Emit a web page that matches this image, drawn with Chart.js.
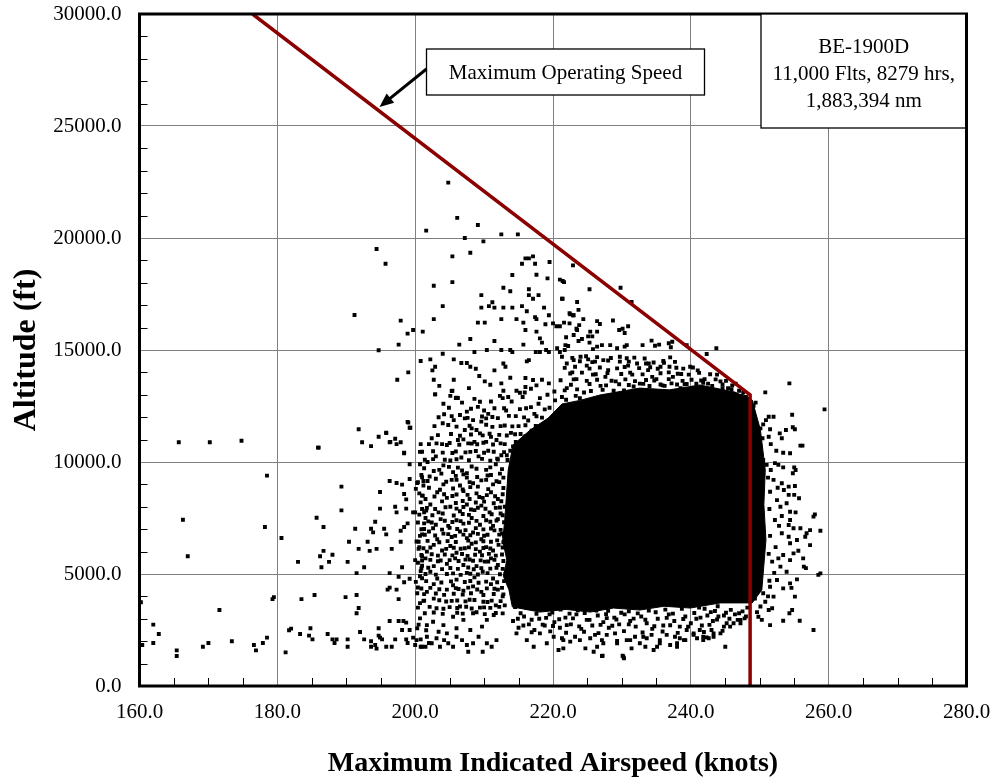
<!DOCTYPE html>
<html>
<head>
<meta charset="utf-8">
<title>BE-1900D Maximum Indicated Airspeed vs Altitude</title>
<script src="https://cdn.jsdelivr.net/npm/chart.js@4.4.1/dist/chart.umd.min.js"></script>
<style>
  html, body { margin: 0; padding: 0; background: #fff; }
  #wrap { position: relative; width: 998px; height: 784px; }
</style>
</head>
<body>
<div id="wrap"><canvas id="speedChart"></canvas></div>
<script>
// axis ticks
var speedTicks = [160, 180, 200, 220, 240, 260, 280];
var altTicks = [0, 5000, 10000, 15000, 20000, 25000, 30000];

// Vmo limit line (knots / ft)
var vmoSpeed = [176.4, 248.6, 248.6];
var vmoAlt = [30000, 13000, 0];

// outline of the solid black part of the cloud (points overlap completely there)
var coreSpeed = [213.5, 214.2, 216.7, 219.3, 221.3, 223.9, 226.8, 232.6, 236.9, 241.3, 246.4, 248.9, 250.1, 250.8, 250.6, 250.9, 250.3, 248.9, 244.3, 239.9, 236.1, 232.6, 228.8, 225.4, 221.9, 218.1, 214.1, 213.6, 212.8, 213.3, 212.7, 213.0, 213.5];
var coreAlt = [9640, 10760, 11430, 11960, 12590, 12750, 12990, 13300, 13220, 13440, 13120, 12770, 11430, 9640, 8100, 6520, 4290, 3710, 3710, 3480, 3560, 3390, 3480, 3300, 3420, 3300, 3530, 4300, 4900, 5620, 6500, 7410, 9640];

// single flights, [knots, ft]
var westLow = [[160.4,1830],[162.0,2740],[162.0,1920],[162.8,2320],[165.4,1590],[165.4,1340],[169.2,1750],[170.0,1920],[173.4,2000],[176.6,1830],[176.9,1590],[177.9,1920],[178.5,2160],[181.2,1500],[181.7,2490],[182.0,2560],[183.3,2320],[184.6,2250],[184.8,2580],[185.1,2080],[187.3,2320],[188.0,2080],[188.3,1920],[188.6,2080],[190.2,2080],[190.2,1750],[192.0,2410],[192.6,2080],[193.6,2000],[193.6,1750],[194.2,1830],[194.4,1670],[194.7,2580],[194.7,2250],[194.9,2160],[195.2,2080],[195.8,1750],[196.3,2900],[196.6,1750],[197.1,2080],[197.6,2900],[198.3,2900],[198.1,2500],[198.7,2080],[198.9,1920],[198.7,2830],[199.2,2500],[199.7,2160],[200.0,1830],[200.3,2580],[200.5,2740],[200.8,2080],[200.8,1750],[201.5,1750],[201.6,2490],[202.0,1920]];

var westMid = [[165.7,10880],[170.2,10880],[174.8,10950],[186.0,10640],[191.8,11460],[192.3,10880],[193.6,10710],[194.7,11130],[195.8,11290],[196.3,10880],[197.1,11040],[197.3,10800],[197.9,10880],[198.4,10390],[198.9,11790],[199.2,11530],[200.8,10800],[201.0,10460],[199.2,9900],[178.5,9390],[166.3,7420],[167.0,5790],[178.2,7100],[180.6,6610],[189.3,8900],[189.3,7840],[185.7,7510],[186.7,7100],[183.0,5540],[186.2,5790],[186.7,6030],[188.0,5860],[187.5,5540],[186.4,5300],[190.2,5540],[190.4,6440],[191.5,5040],[191.8,6120],[191.3,7020],[192.6,5300],[193.1,6440],[193.4,6030],[194.2,7330],[193.6,7020],[193.9,6860],[194.4,6120],[194.9,8660],[194.9,7920],[195.5,7020],[195.8,6770],[196.3,9150],[196.6,6120],[197.1,8000],[197.3,7750],[197.3,9060],[197.9,6930],[198.1,8990],[198.4,8570],[198.7,8330],[198.4,7100],[198.7,7920],[198.9,7260],[199.2,9240],[199.7,7750],[197.9,6440],[198.1,5300],[197.6,4880],[198.4,4630],[199.2,4790],[196.3,5040],[196.0,4300],[196.3,4390],[197.3,4300],[197.6,3880],[200.3,4140],[201.3,3810],[200.0,5620],[200.5,6120],[201.0,5790],[201.0,5370],[200.8,5130],[201.0,4810],[200.5,6440],[201.0,6770],[201.3,7010],[201.3,7750],[201.6,7830],[201.0,9320],[201.2,9150],[200.3,9060],[201.0,8500],[200.0,7750],[201.3,7260],[191.5,4060],[191.8,3480],[191.5,3250],[189.9,3970],[183.5,3880],[185.4,4060],[179.5,3970],[179.3,3880],[171.6,3390],[160.2,3740],[185.9,10640],[198.4,10410],[195.8,11310],[196.4,10900]];

var westHalo = [
  [200.7,9900],[202.7,9600],[204.1,9850],[205.5,9550],[206.2,9750],[207.5,9500],[208.2,9800],[210.3,9650],[211.7,9900],
  [200.4,9100],[201.2,8950],[203.0,9250],[204.1,9000],[205.3,9200],[206.5,8950],[207.5,9300],[208.4,9050],[209.1,8900],[210.3,9200],[211.3,9000],
  [200.6,8600],[201.5,8350],[203.2,8650],[204.6,8400],[206.0,8550],[207.0,8700],[207.9,8350],[208.9,8600],[209.8,8400],[211.0,8650],[212.0,8350],
  [201.0,7900],[202.2,8100],[203.4,7750],[205.1,8000],[206.5,7800],[207.5,8100],[208.6,7850],[209.6,8050],[210.8,7750],[211.7,7950],
  [200.4,7300],[201.5,7500],[203.0,7200],[203.7,7450],[204.8,7150],[206.0,7400],[207.0,7250],[208.2,7500],[209.4,7200],[210.3,7400],[211.3,7150],[212.0,7450],
  [200.7,6700],[202.0,6900],[203.2,6550],[204.1,6800],[205.3,6650],[206.5,6900],[207.5,6600],[208.4,6850],[209.6,6550],[210.5,6750],[211.5,6950],
  [200.6,6200],[201.7,6000],[202.7,6300],[203.9,6050],[205.1,6250],[206.0,5950],[207.2,6150],[208.2,6350],[209.4,6000],[210.3,6200],[211.3,6050],[212.1,6300],
  [200.4,5500],[201.5,5700],[202.7,5350],[203.7,5600],[204.6,5450],[205.8,5700],[207.0,5400],[207.9,5650],[208.9,5350],[210.1,5550],[211.0,5700],[212.0,5400],
  [200.7,4900],[202.2,5100],[203.2,4800],[204.6,5000],[206.0,4750],[207.5,5050],[208.6,4850],[209.8,5100],[211.3,4800],
  [200.4,4400],[201.7,4200],[202.7,4550],[204.6,4300],[205.5,4500],[207.0,4250],[208.4,4450],[209.6,4200],[211.0,4550],[212.0,4300],
  [200.7,3700],[202.7,3900],[204.1,3450],[205.3,3800],[206.5,3550],[207.9,3850],[209.4,3500],[210.5,3750],[211.7,3600],
  [212.8,9300],[213.0,8000],[212.6,6800],[213.1,5000],[212.7,4000],[213.0,3600],[212.5,10300],[213.0,10800],[212.4,7700],[213.2,6200],
  [200.7,3020],[201.7,2720],[202.6,2870],[204.1,2720],[205.5,3090],[207.0,2950],[208.4,3250],[209.7,2650],[210.4,2950],[211.4,3170],[208.0,2500],[206.0,2580],[204.6,2350],[203.4,2420],
  [200.2,2050],[201.0,1750],[201.7,2200],[202.4,1910],[203.1,2130],[203.6,1750],[204.2,2050],[204.8,1910],[205.5,1750],[206.0,2200],[206.8,2050],[207.5,1830],[207.7,1530],[208.4,1910],[209.2,2200],[209.8,1530],[210.4,1910],[211.1,1750],[211.8,2050]
];

var westHaloB = [
  [201.3,9720],[203.5,9650],[204.9,9780],[206.8,9620],[208.9,9700],[210.9,9760],[212.6,9680],
  [200.9,9420],[202.1,9350],[203.8,9480],[205.9,9380],[207.0,9450],[209.0,9330],[211.0,9420],[212.3,9480],
  [201.8,9150],[204.5,9120],[206.0,9200],[207.9,9100],[209.6,9180],[211.8,9140],
  [200.1,8800],[202.0,8850],[203.6,8760],[205.5,8820],[206.9,8780],[208.0,8880],[210.6,8790],[212.8,8840],
  [201.1,8500],[202.8,8460],[204.2,8560],[205.4,8480],[207.6,8530],[209.3,8440],[210.4,8520],[211.6,8470],[212.7,8560],
  [200.8,8200],[203.9,8240],[205.9,8170],[206.9,8260],[208.8,8190],[210.0,8230],[211.4,8160],[212.5,8250],
  [201.7,7950],[202.9,7900],[204.4,7980],[206.0,7920],[207.0,7990],[208.1,7880],[209.1,7960],[210.2,7910],[212.3,7970],
  [200.6,7650],[202.5,7620],[204.0,7700],[205.6,7610],[206.9,7680],[207.8,7640],[209.9,7590],[211.1,7670],[212.7,7620],
  [201.9,7350],[202.4,7300],[204.3,7380],[205.4,7320],[206.6,7360],[207.8,7290],[208.9,7370],[210.9,7330],[211.8,7390],[212.9,7310],
  [200.9,7000],[202.6,7040],[203.9,6980],[205.0,7060],[206.1,7010],[207.3,6960],[208.8,7050],[209.9,6990],[211.0,7030],[212.4,6970],
  [201.4,6750],[202.9,6720],[204.8,6780],[205.8,6700],[207.0,6760],[208.0,6730],[209.1,6790],[210.0,6710],[212.2,6760],[212.9,6690],
  [200.2,6450],[201.8,6480],[203.5,6420],[204.7,6470],[205.9,6430],[207.7,6490],[208.8,6410],[209.9,6460],[211.0,6440],[211.9,6500],[212.8,6420],
  [201.2,6150],[202.2,6180],[204.5,6120],[205.6,6170],[206.6,6130],[207.8,6190],[208.8,6110],[209.9,6160],[210.9,6140],[212.7,6180],
  [200.9,5850],[202.4,5880],[203.3,5820],[204.3,5870],[205.4,5830],[206.8,5890],[207.6,5810],[208.7,5860],[209.7,5840],[210.7,5900],[211.7,5820],[212.6,5870],
  [201.0,5600],[202.2,5630],[203.3,5570],[205.0,5620],[206.3,5580],[207.3,5640],[208.4,5590],[209.5,5610],[210.6,5560],[211.5,5630],[212.8,5580],
  [200.9,5250],[201.9,5280],[203.9,5220],[205.1,5270],[206.2,5230],[207.7,5290],[208.5,5210],[209.6,5260],[210.9,5240],[211.8,5280],[212.7,5230],
  [201.5,5000],[203.0,4970],[205.5,5030],[206.6,4960],[208.0,5010],[209.1,4980],[210.5,5040],[212.3,4990],
  [200.1,4650],[201.6,4680],[203.8,4620],[205.2,4670],[207.2,4640],[208.0,4690],[209.2,4610],[210.3,4660],[211.9,4630],[212.9,4680],
  [200.9,4350],[202.2,4380],[203.5,4320],[205.9,4370],[206.3,4330],[207.7,4390],[209.0,4310],[210.4,4360],[211.5,4340],[212.6,4380],
  [201.3,4100],[203.0,4130],[204.2,4070],[205.6,4120],[206.9,4080],[208.1,4140],[209.9,4060],[211.4,4110],[212.8,4090],
  [201.2,3800],[203.5,3830],[204.5,3770],[206.1,3820],[207.3,3780],[208.6,3840],[209.9,3760],[211.1,3810],[212.4,3790],
  [200.4,3500],[202.1,3530],[203.1,3470],[205.0,3520],[206.1,3480],[207.4,3540],[208.2,3460],[210.0,3510],[210.9,3490],[212.2,3530],
  [201.4,3250],[202.7,3280],[204.0,3220],[206.1,3270],[206.9,3230],[208.9,3290],[210.1,3210],[211.7,3260],[212.7,3240]
];

var northHalo = [
  [202.9,13020],[205.3,13170],[206.0,12870],[209.4,12690],[204.2,12130],[204.0,11730],[205.6,11870],[206.5,12100],[207.2,11950],[208.4,11870],[208.9,11430],[209.6,11800],[210.3,11950],[207.2,11430],[208.2,11500],[209.4,11280],[202.4,11060],[203.1,10830],[203.9,10800],[204.6,10760],[206.2,10980],[207.0,11010],[207.7,10830],[208.6,10900],[210.3,10900],[211.0,11120],[211.8,10980],[199.0,11760],[199.3,11530],
  [203.5,13400],[207.8,13300],[210.9,13450],[214.0,12700],[215.6,12900],[217.9,12600],[219.2,13000],[220.3,12750],[213.2,12300],[214.6,12050],[216.1,12400],[217.3,12150],[218.8,12350],[215.0,11600],[216.4,11850],[213.9,11300],[212.4,11600],[211.5,12400],[210.0,12300],[212.7,12850],[215.3,11250],[216.9,11400],[214.2,10700],[213.3,10300],[211.9,10150],[210.6,10500],[209.2,10250],[208.0,10450],[206.7,10200],[205.4,10400],[204.3,10100],[203.0,10250],[201.8,10000],[210.5,9400],[212.2,9100],
  [222.0,13300],[223.4,13700],[224.5,13100],[225.8,13900],[226.9,13400],[228.0,14100],[229.1,13600],[230.3,13200],[231.5,13900],[232.6,13500],[233.8,14100],[235.0,13700],[236.2,13400],[237.4,13800],[238.5,13300],[239.7,13900],[240.8,13500],[242.0,13700],[243.1,13400],[244.3,13600],[245.4,13300],[246.5,13500],[247.6,13100],[222.8,14000],[224.9,14300],[227.6,13800],[230.9,14300],[234.4,13800],[236.8,14000],[240.2,13300],[243.8,13900],[246.0,13000],[221.3,12900],[223.9,12850],[248.0,12900]
];

var northHaloB = [
  [204.9,12420],[208.1,12380],[209.1,12460],[212.9,12400],[215.2,12360],[216.8,12450],[219.5,12420],
  [203.4,12000],[205.3,12050],[207.6,11970],[209.7,12030],[211.2,12010],[212.0,11960],[213.6,12060],[215.8,11990],[217.6,12040],[218.4,11980],
  [202.8,11600],[204.8,11650],[206.0,11580],[207.9,11620],[210.3,11660],[211.2,11570],[213.0,11630],[214.1,11590],[216.0,11640],[217.5,11610],
  [203.3,11200],[205.2,11250],[206.5,11170],[208.1,11230],[209.8,11190],[210.8,11260],[212.2,11210],[213.3,11180],[214.5,11240],[216.0,11150],
  [202.0,10800],[205.0,10850],[206.4,10770],[208.2,10820],[209.0,10790],[209.9,10860],[211.3,10780],[212.4,10830],[214.6,10890],
  [200.7,10450],[202.6,10480],[204.0,10420],[205.9,10470],[207.3,10430],[208.8,10490],[210.0,10410],[211.4,10460],[212.9,10440],[213.8,10500],
  [201.4,10100],[202.6,10130],[205.1,10070],[206.0,10120],[207.8,10080],[209.7,10140],[210.9,10060],[212.0,10110],[213.4,10090],
  [221.3,14700],[222.8,14650],[224.8,14720],[226.4,14680],[228.4,14640],[229.7,14700],[231.8,14660],[233.3,14620],
  [223.9,14500],[225.7,14460],[228.0,14530],[231.0,14480],[234.6,14440],[236.0,14510],[237.7,14470],
  [221.7,14200],[223.2,14250],[225.3,14170],[226.8,14220],[229.3,14180],[230.4,14240],[232.5,14190],[234.1,14230],[235.2,14160],[237.9,14210],[238.9,14170],[240.3,14220],
  [222.5,13950],[224.2,13990],[226.2,13920],[227.9,13970],[229.9,13930],[231.2,13990],[233.0,13910],[235.6,13960],[238.1,13940],[241.2,13980],[242.8,13920],
  [221.1,13650],[223.0,13690],[224.9,13620],[226.4,13670],[228.5,13630],[230.5,13690],[231.9,13610],[233.5,13660],[234.7,13640],[236.8,13700],[238.8,13620],[240.1,13670],[241.5,13640],[243.6,13690],[245.1,13620],
  [222.6,13450],[225.3,13480],[227.7,13420],[229.6,13470],[231.0,13440],[233.1,13490],[235.6,13460],[237.2,13510],[239.1,13470],[241.8,13530],[244.6,13460],[246.0,13420],
  [221.7,13200],[223.5,13240],[225.5,13170],[227.2,13220],[228.8,13180],[231.7,13370],[234.0,13390],[235.9,13420],[238.0,13460],[239.4,13480],[242.5,13500],[244.6,13300],[245.9,13250],[247.0,13180],
  [247.4,12950],[248.2,12820],[221.9,12780],[223.3,12950],
  [206.8,12650],[208.6,12820],[211.0,12700],[213.5,12900],[215.9,13100],[218.1,12850],[220.2,13150],[207.5,12250],[210.6,12150],[204.1,12600]
];

var upper = [[204.8,22470],[206.1,20900],[201.6,20330],[209.1,20580],[207.2,20000],[209.9,19850],[212.5,20160],[214.9,20160],[194.4,19510],[195.7,18850],[205.4,19180],[208.0,19340],[202.7,17870],[205.4,18030],[204.0,16960],[191.2,16560],[197.9,16310],[198.9,15730],[199.7,15890],[201.1,15820],[202.7,16380],[197.6,15240],[194.7,14990],[209.6,17450],[211.2,17130],[210.7,16960],[211.5,16890],[209.6,16890],[212.8,17780],[213.8,17620],[212.8,16890],[214.1,16890],[212.5,16380],[209.1,16220],[210.1,16220],[214.7,16380],[215.5,16960],[214.1,18350],[215.5,18850],[216.0,19090],[216.5,19090],[217.1,19180],[217.4,18850],[217.6,18360],[216.5,17710],[216.5,17450],[217.1,17290],[217.9,17450],[219.2,18200],[219.5,18930],[216.2,16730],[215.7,16220],[216.0,15890],[217.4,16470],[217.6,16380],[218.7,16890],[219.4,16550],[217.6,15820],[218.9,16150],[220.0,16190],[220.5,16060],[221.0,16060],[221.0,18140],[221.6,18030],[221.3,17290],[222.4,16640],[222.9,16550],[221.6,16220],[222.4,16190],[222.9,18780],[223.5,15890],[218.1,15520],[218.4,15330],[215.7,15240],[217.5,14910],[218.1,14910],[219.0,15000],[219.4,14910],[220.6,15080],[221.0,14910],[221.7,15000],[212.5,15000],[213.8,15000],[214.1,14910],[211.5,15400],[210.4,15000],[208.6,14910],[206.4,15240],[208.0,15490],[204.0,14830],[200.8,14510],[202.2,14580],[202.9,14250],[202.5,14090],[205.6,14580],[206.7,14420],[207.5,14420],[208.0,14250],[208.8,14160],[209.3,13840],[210.1,13600],[211.5,14090],[212.8,14400],[213.1,14250],[213.8,13760],[212.5,13510],[214.7,13180],[215.2,13090],[216.2,14490],[216.5,14550],[216.0,13750],[217.1,13660],[217.6,13420],[216.0,13350],[216.8,13270],[218.4,13670],[219.4,13510],[197.4,13670],[199.0,14000],[202.7,13670],[205.6,13670],[202.9,13020],[205.4,13180],[205.1,12950],[205.9,12860],[206.2,12860],[212.8,13180],[212.3,12950],
  [221.4,18080],[225.3,17710],[229.8,17780],[231.4,17140],[221.4,17290],[223.5,17140],[223.7,16790],[222.5,16590],[223.0,16550],[224.4,16380],[223.8,16110],[223.4,15950],[226.4,16290],[226.8,16160],[228.7,16320],[230.9,16060],[229.6,15890],[230.1,15950],[230.4,15760],[225.4,15820],[225.1,15610],[225.7,15610],[221.9,15570],[223.0,15670],[226.4,15820],[221.8,15220],[222.2,15180],[223.7,15400],[224.2,15490],[225.3,15330],[225.8,15040],[226.4,15150],[227.1,15220],[228.3,15220],[229.3,15080],[230.4,15150],[230.7,15220],[233.0,15220],[234.3,15420],[234.8,15190],[235.4,15240],[236.8,15300],[237.3,15370],[237.1,15120],[239.4,15220],[243.7,15080],[242.3,14820],[239.9,14250],[241.0,14090],[238.6,13930],[237.0,14670],[236.1,14430],[236.9,14250],[235.6,14250],[233.5,14400],[233.9,14400],[232.2,14400],[230.7,14630],[229.7,14480],[227.3,14550],[226.1,14480],[225.1,14580],[224.0,14700],[223.0,14550],[222.0,14400],[247.2,12690]];

var south = [[221.5,1680],[224.7,1680],[227.2,1350],[230.1,1350],[230.3,1240],[225.9,1530],[231.4,1680],[233.4,1750],[234.6,1610],[235.1,1750],[245.0,1750],[237.0,1830],[238.0,1910],[239.2,2050],[240.9,2130],[241.8,2050],[242.6,2130],[226.4,1750],[227.1,1340],[230.2,1310],[227.3,1910],[229.3,1910],[231.2,2050],[233.1,2200],[235.5,1910],[238.0,1750],[239.0,2050],[241.8,2200],[240.4,2350],[243.3,2350],[245.7,2650],[243.3,2200],[242.3,2170],
  [221.3,2130],[222.5,1980],[223.2,2200],[223.9,2050],[225.4,2130],[226.1,2280],[227.1,2050],[227.8,2280],[229.0,2350],[229.3,2010],[230.7,2050],[231.9,2200],[232.6,1910],[233.6,2130],[234.3,2280],[235.5,2050],[236.5,2280],[237.7,2200],[238.4,2130],[239.4,2500],[240.4,2280],[241.3,2500],[243.0,2500],[244.3,2350],[245.2,2800],[246.2,2800],[247.2,2800],
  [214.2,2900],[215.0,2600],[215.8,3100],[216.5,2750],[217.3,2500],[218.0,3000],[218.8,2700],[219.5,3200],[220.2,2850],[221.0,2600],[221.8,3050],[222.6,2750],[223.4,3200],[224.1,2550],[224.9,2950],[225.7,2700],[226.5,3150],[227.3,2850],[228.1,2600],[228.9,3050],[229.6,2750],[230.4,3200],[231.2,2900],[232.0,2650],[232.8,3100],[233.6,2800],[234.4,2550],[235.2,3000],[236.0,2700],[236.8,3200],[237.6,2900],[238.4,2650],[239.2,3100],[240.0,2800],[240.8,3000],[241.6,2700],[242.4,3150],[243.2,2900],[244.0,3100],[244.8,2650],[245.6,3000],[246.4,3200],[247.2,2950],[248.0,3100],
  [214.7,2350],[216.2,2050],[217.2,1750],[218.1,2350],[219.1,1910],[220.1,2200],[220.8,1610],[221.5,2050],
  [245.8,3400],[247.0,3250],[243.5,3350],[246.8,2950],[248.2,3500],[242.0,3450],[244.8,3150]];

var southB = [
  [214.5,3520],[216.2,3480],[218.9,3440],[221.1,3410],[223.6,3380],[226.3,3370],[228.0,3360],[231.0,3340],[233.9,3370],[236.3,3410],[238.7,3450],[241.2,3500],[243.9,3560],
  [215.3,3250],[217.6,3220],[219.9,3280],[222.4,3230],[224.6,3260],[227.7,3210],[229.9,3270],[232.3,3240],[234.9,3290],[237.4,3230],[240.5,3260],[242.9,3300],[245.1,3270],[247.5,3330],
  [214.9,3000],[216.9,2960],[219.0,3040],[220.9,2980],[222.9,3020],[225.3,2950],[227.8,3030],[229.2,2970],[231.7,3010],[233.4,2960],[236.5,3040],[238.9,2990],[241.4,3050],[243.8,2970],[247.8,3020],
  [215.7,2700],[218.5,2740],[220.0,2680],[222.0,2720],[223.8,2660],[226.9,2730],[228.6,2690],[231.0,2750],[234.7,2670],[237.0,2710],[239.6,2650],[242.7,2730],
  [216.9,2400],[219.6,2440],[221.9,2380],[224.5,2420],[226.6,2360],[230.3,2450],[233.0,2390],[235.9,2430],[238.1,2370],[241.9,2410],[244.6,2460],
  [249.3,3900],[250.1,3550],[249.6,3300],[251.2,4000],[249.0,4100]
];

var east = [[254.3,13510],[250.8,13110],[259.4,12350],[254.7,12110],[249.4,12650],[249.1,12510],[251.3,12020],[252.0,12020],[250.9,11870],[250.5,11680],[250.1,11500],[251.5,11460],[252.9,11280],[253.8,11430],[254.8,11550],[255.1,11460],[253.2,11060],[253.4,10410],[254.4,10390],[255.9,10730],[256.2,10730],[250.4,11060],[251.3,11130],[252.2,9950],[252.7,9870],[253.4,9760],[255.0,9760],[254.8,9500],[255.2,9640],[250.5,10090],[251.0,9870],[251.6,9640],[250.1,9790],[252.0,9200],[253.2,9050],[254.2,8900],[255.1,8930],[255.0,8530],[255.7,8380],[254.2,8530],[253.5,8750],[251.5,8670],[252.5,8300],[253.0,8000],[253.9,8160],[254.4,7780],[255.2,7750],[253.2,7590],[252.2,7410],[258.0,7660],[257.8,7560],[258.8,6930],[257.3,6960],[256.8,6820],[256.6,6660],[255.9,7040],[254.9,7040],[254.4,7410],[254.2,7190],[253.2,6820],[254.2,6660],[255.4,6520],[254.4,6370],[257.3,6290],[255.6,6040],[254.9,5920],[253.4,5850],[254.4,5620],[252.7,5700],[251.8,5550],[253.0,5330],[253.9,5100],[256.3,5700],[256.4,5330],[256.7,5260],[258.8,5030],[258.5,4960],[255.4,4760],[254.4,4580],[253.4,4360],[252.5,4730],[251.5,4430],[250.5,4140],[252.0,3990],[254.6,4380],[255.1,3990],[250.8,3760],[251.8,3470],[251.3,3390],[254.7,3390],[254.3,3250],[249.8,3090],[250.3,2950],[251.5,2720],[253.4,2910],[255.8,2910],[257.8,2500],
  [251.6,10800],[252.4,10500],[251.2,9300],[252.6,8850],[251.4,7900],[252.8,7150],[251.5,6700],[252.3,6200],[251.3,5900],[252.1,5050],[251.4,4700]];

function toXY(xs, ys) {
  return xs.map(function(x, i) { return { x: x, y: ys[i] }; });
}
function pairs(list) {
  return list.map(function(p) { return { x: p[0], y: p[1] }; });
}

var flights = pairs(westLow.concat(westMid, westHalo, westHaloB, northHalo, northHaloB, upper, south, southB, east));

var serif = "'Liberation Serif', 'Times New Roman', serif";

// frame, minor ticks, arrow and the two text boxes
var chartNotes = {
  id: 'chartNotes',
  afterDatasetsDraw: function(chart) {
    var ctx = chart.ctx, a = chart.chartArea;
    var xs = chart.scales.x, ys = chart.scales.y;
    ctx.save();

    ctx.strokeStyle = '#000';
    ctx.lineWidth = 1;
    ctx.beginPath();
    for (var k = 165; k < 280; k += 5) {
      if (k % 20 === 0) continue;
      var px = Math.round(xs.getPixelForValue(k)) + 0.5;
      ctx.moveTo(px, a.bottom);
      ctx.lineTo(px, a.bottom - 8);
    }
    for (var f = 1000; f < 30000; f += 1000) {
      if (f % 5000 === 0) continue;
      var py = Math.round(ys.getPixelForValue(f)) + 0.5;
      ctx.moveTo(a.left, py);
      ctx.lineTo(a.left + 8, py);
    }
    ctx.stroke();

    ctx.lineWidth = 3;
    ctx.strokeRect(a.left, a.top, a.right - a.left, a.bottom - a.top);

    // "Maximum Operating Speed" label + arrow
    var bx = a.left + 287, by = a.top + 35, bw = 278, bh = 46;
    ctx.fillStyle = '#fff';
    ctx.fillRect(bx, by, bw, bh);
    ctx.lineWidth = 1.3;
    ctx.strokeRect(bx, by, bw, bh);
    ctx.fillStyle = '#000';
    ctx.font = '21px ' + serif;
    ctx.textAlign = 'center';
    ctx.textBaseline = 'middle';
    ctx.fillText('Maximum Operating Speed', bx + bw / 2, by + bh / 2 + 1);

    var sx = bx, sy = a.top + 55, tx = a.left + 240, ty = a.top + 93;
    var dx = tx - sx, dy = ty - sy, len = Math.sqrt(dx * dx + dy * dy);
    var ux = dx / len, uy = dy / len;
    var hx = tx - ux * 14, hy = ty - uy * 14;
    ctx.lineWidth = 3;
    ctx.beginPath();
    ctx.moveTo(sx, sy);
    ctx.lineTo(hx + ux * 2, hy + uy * 2);
    ctx.stroke();
    ctx.beginPath();
    ctx.moveTo(tx, ty);
    ctx.lineTo(hx - uy * 6, hy + ux * 6);
    ctx.lineTo(hx + uy * 6, hy - ux * 6);
    ctx.closePath();
    ctx.fill();

    // aircraft box, top right
    var cx = a.left + 621.5, cw = a.right - cx, ch = 114;
    ctx.fillStyle = '#fff';
    ctx.fillRect(cx, a.top, cw, ch);
    ctx.lineWidth = 1.3;
    ctx.strokeRect(cx, a.top, cw, ch);
    ctx.fillStyle = '#000';
    var lines = ['BE-1900D', '11,000 Flts, 8279 hrs,', '1,883,394 nm'];
    lines.forEach(function(t, i) {
      ctx.fillText(t, cx + cw / 2, a.top + 33 + i * 27);
    });
    ctx.lineWidth = 3;
    ctx.beginPath();
    ctx.moveTo(a.right, a.top);
    ctx.lineTo(a.right, a.top + ch);
    ctx.stroke();

    ctx.restore();
  }
};

var ctx = document.getElementById('speedChart');

new Chart(ctx, {
  type: 'scatter',
  data: {
    datasets: [{
      type: 'line',
      label: 'Vmo',
      data: toXY(vmoSpeed, vmoAlt),
      borderColor: '#8b0000',
      borderWidth: 3.5,
      pointRadius: 0,
      fill: false,
      tension: 0,
      order: 0
    }, {
      label: 'Flights',
      data: flights,
      pointStyle: 'rect',
      pointRadius: 2.75,
      pointBorderWidth: 0,
      backgroundColor: '#000',
      borderColor: '#000',
      order: 1
    }, {
      type: 'line',
      label: 'Dense',
      data: toXY(coreSpeed, coreAlt),
      borderColor: '#000',
      backgroundColor: '#000',
      borderWidth: 1,
      pointRadius: 0,
      fill: 'shape',
      tension: 0,
      order: 2
    }]
  },
  options: {
    responsive: true,
    maintainAspectRatio: false,
    animation: false,
    layout: { padding: 0 },
    plugins: {
      legend: { display: false },
      tooltip: { enabled: false }
    },
    scales: {
      x: {
        type: 'linear',
        min: 160,
        max: 280,
        afterBuildTicks: function(s) { s.ticks = speedTicks.map(function(v) { return { value: v }; }); },
        afterFit: function(s) {
          s.height = 98;
          s.paddingLeft = 0;
          s.paddingRight = 31.5;
        },
        grid: { color: '#808080', lineWidth: 1, drawTicks: false },
        border: { display: false },
        ticks: {
          padding: 14,
          color: '#000',
          font: { family: serif, size: 21 },
          callback: function(v) { return Number(v).toFixed(1); }
        },
        title: {
          display: true,
          text: 'Maximum Indicated Airspeed (knots)',
          color: '#000',
          font: { family: serif, size: 28, weight: 'bold' },
          padding: { top: 0, bottom: 3 }
        }
      },
      y: {
        type: 'linear',
        min: 0,
        max: 30000,
        afterBuildTicks: function(s) { s.ticks = altTicks.map(function(v) { return { value: v }; }); },
        afterFit: function(s) {
          s.width = 139.5;
          s.paddingTop = 14;
          s.paddingBottom = 0;
        },
        grid: { color: '#808080', lineWidth: 1, drawTicks: false },
        border: { display: false },
        ticks: {
          padding: 18,
          color: '#000',
          font: { family: serif, size: 21 },
          callback: function(v) { return Number(v).toFixed(1); }
        },
        title: {
          display: true,
          text: 'Altitude (ft)',
          color: '#000',
          font: { family: serif, size: 32, weight: 'bold' },
          padding: { top: 8, bottom: 0 }
        }
      }
    }
  },
  plugins: [chartNotes]
});
</script>
</body>
</html>
